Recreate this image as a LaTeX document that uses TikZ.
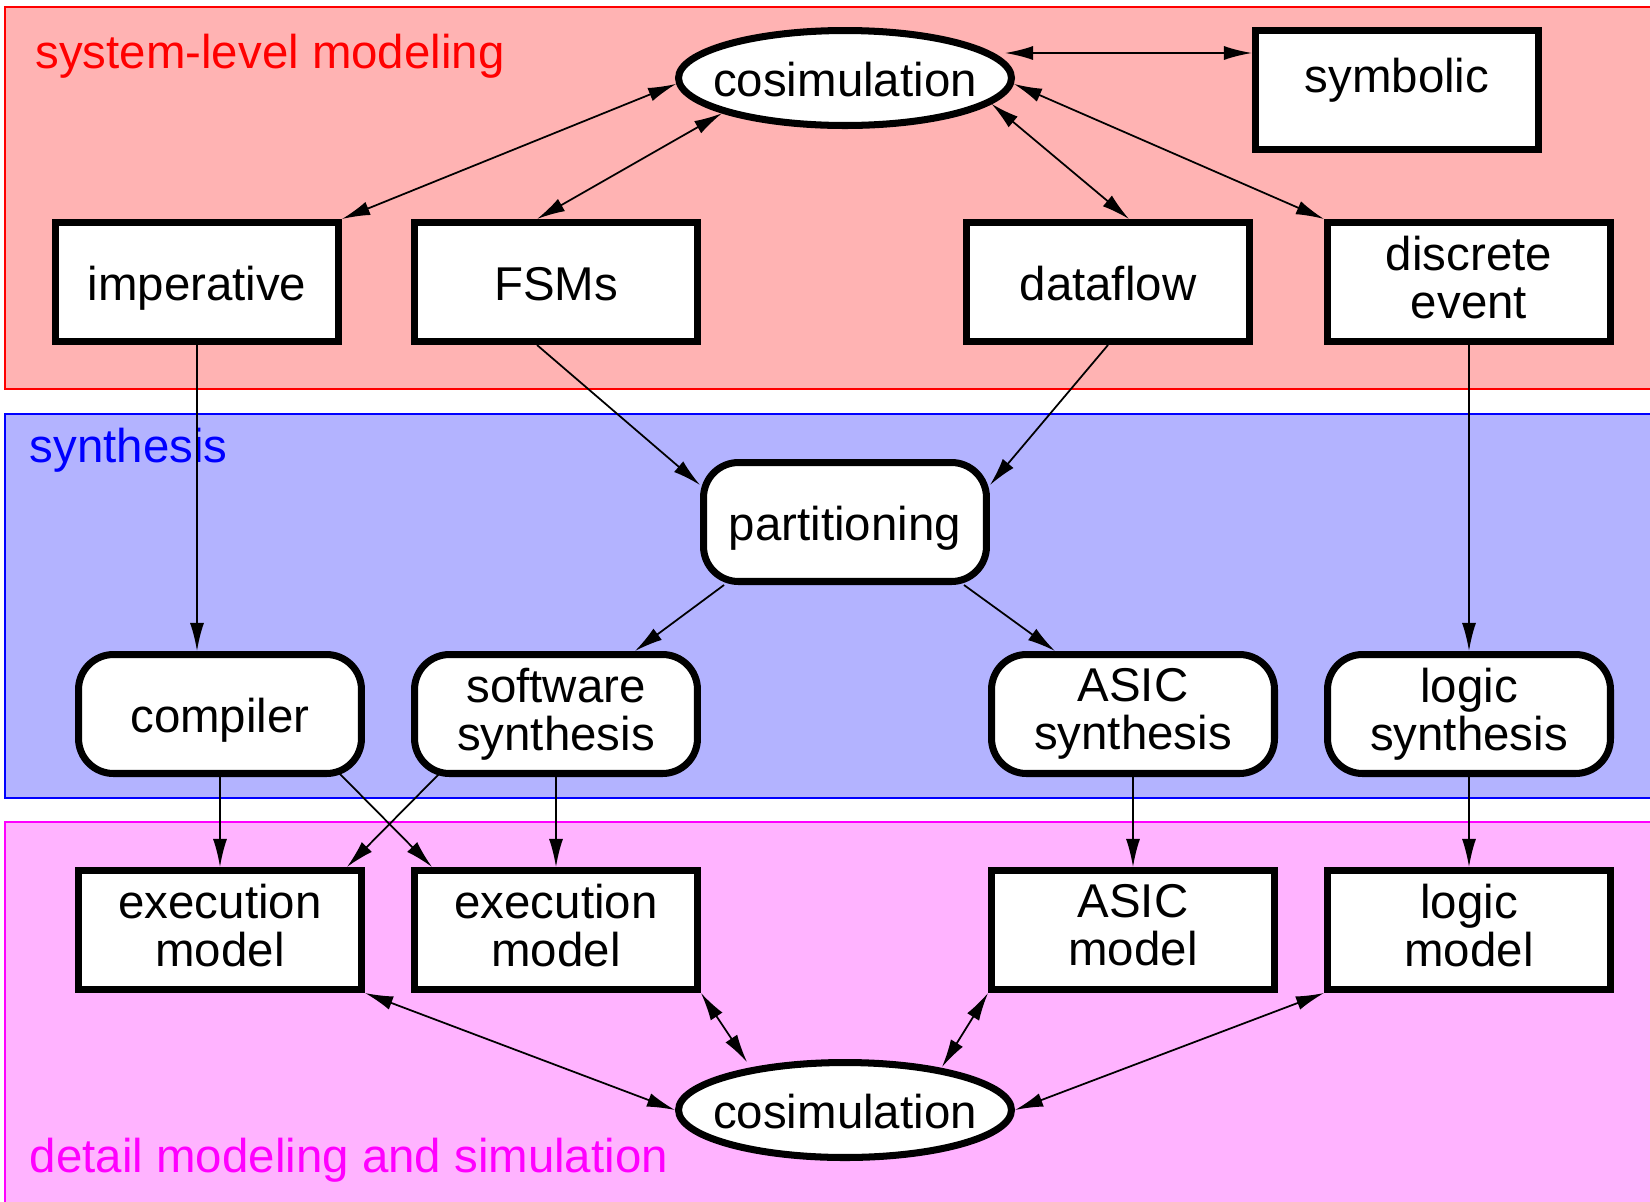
\documentclass[tikz,border=0pt]{standalone}
\usepackage{fontspec}
\setmainfont{Liberation Sans}
\usetikzlibrary{shapes.geometric,arrows.meta,calc}
\definecolor{bandred}{RGB}{255,0,0}
\definecolor{bandredfill}{RGB}{255,179,179}
\definecolor{bandblue}{RGB}{0,0,255}
\definecolor{bandbluefill}{RGB}{179,179,255}
\definecolor{bandmag}{RGB}{255,0,255}
\definecolor{bandmagfill}{RGB}{255,179,255}
\newcommand{\mylowstrut}[1]{\rule[-#1]{0pt}{0pt}}
\tikzset{
  nodefont/.style={font=\fontsize{27}{27.5}\selectfont},
  sqbox/.style={nodefont, draw, line width=4pt, fill=white, rectangle, minimum width=5.66cm, minimum height=2.38cm, inner sep=0pt, align=center},
  rbox/.style={sqbox, rounded corners=0.7cm},
  oneline/.style={text height=0.85cm, text depth=0.11cm},
  ebox/.style={nodefont, draw, line width=4pt, fill=white, ellipse, minimum width=6.66cm, minimum height=1.9cm, inner sep=0pt, oneline},
  band/.style={line width=1pt},
  blabel/.style={nodefont, anchor=base west, inner sep=0pt},
  arr/.style={-{Latex[length=16pt,width=8pt]}, line width=1pt},
  darr/.style={{Latex[length=16pt,width=8pt]}-{Latex[length=16pt,width=8pt]}, line width=1pt}
}
\begin{document}
\begin{tikzpicture}[x=0.02cm, y=-0.02cm]
\useasboundingbox (0,0) rectangle (1650,1201);
\clip (0,0) rectangle (1650,1201);
% bands
\draw[band, draw=bandred, fill=bandredfill] (5,7) rectangle (1700,389);
\draw[band, draw=bandblue, fill=bandbluefill] (5,414) rectangle (1700,798);
\draw[band, draw=bandmag, fill=bandmagfill] (5,822) rectangle (1700,1250);
\node[blabel, text=bandred] (l1) at (35,68) {system-level modeling};
\node[blabel, text=bandblue] (l2) at (29.5,462) {synthesis};
\node[blabel, text=bandmag] (l3) at (29.5,1172) {detail modeling and simulation};
% nodes
\node[ebox] (cosA) at (845,78) {\makebox[0pt]{cosimulation}};
\node[sqbox, text height=0.5cm, text depth=0.4cm] (sym) at (1397,90) {symbolic};
\node[sqbox, oneline] (imp) at (197,282) {imperative};
\node[sqbox, oneline] (fsm) at (556,282) {FSMs};
\node[sqbox, oneline] (dfl) at (1108,282) {dataflow};
\node[sqbox] (dev) at (1469,282) {discrete\\event\mylowstrut{0.18cm}};
\node[rbox, oneline] (part) at (845,522) {partitioning};
\node[rbox, oneline] (comp) at (220,714) {compiler};
\node[rbox] (sws) at (556,714) {software\\synthesis};
\node[rbox] (asyn) at (1133,714) {ASIC\\synthesis};
\node[rbox] (lsyn) at (1469,714) {logic\\synthesis};
\node[sqbox] (ex1) at (220,930) {execution\\model\mylowstrut{0.2cm}};
\node[sqbox] (ex2) at (556,930) {execution\\model\mylowstrut{0.2cm}};
\node[sqbox] (asm) at (1133,930) {ASIC\\model\mylowstrut{0.2cm}};
\node[sqbox] (lgm) at (1469,930) {logic\\model\mylowstrut{0.2cm}};
\node[ebox] (cosB) at (845,1110) {\makebox[0pt]{cosimulation}};
% top connectors
\draw[darr] ($(cosA.east)+(-10,-25)$) -- ($(sym.west)+(0,-37)$);
\draw[darr] (cosA.182) -- (imp.north east);
\draw[darr] (cosA.196.6) -- ($(fsm.north)+(-19,0)$);
\draw[darr] (cosA.350.8) -- ($(dfl.north)+(21,0)$);
\draw[darr] (cosA.358) -- (dev.north west);
% to synthesis
\draw[arr] (imp.south) -- (imp.south |- comp.north);
\draw[arr] ($(fsm.south)+(-19,0)$) -- ($(part.north west)+(0,26)$);
\draw[arr] (dfl.south) -- ($(part.north east)+(0,26)$);
\draw[arr] (dev.south) -- (lsyn.north);
\draw[arr] ($(part.south west)+(24,0)$) -- ($(sws.north)+(79,0)$);
\draw[arr] ($(part.south east)+(-26,0)$) -- ($(asyn.north)+(-78,0)$);
% to models
\draw[arr] (comp.south) -- (ex1.north);
\draw[arr] ($(comp.south east)+(-26,-4)$) -- ($(ex2.north west)+(21,0)$);
\draw[arr] ($(sws.south west)+(29,-4)$) -- ($(ex1.north east)+(-18,0)$);
\draw[arr] (sws.south) -- (ex2.north);
\draw[arr] (asyn.south) -- (asm.north);
\draw[arr] (lsyn.south) -- (lgm.north);
% bottom cosimulation
\draw[darr] (ex1.south east) -- (cosB.west);
\draw[darr] (ex2.south east) -- ($(cosB.center)+(-98,-48)$);
\draw[darr] (asm.south west) -- ($(cosB.center)+(97,-43)$);
\draw[darr] (lgm.south west) -- (cosB.east);
\end{tikzpicture}
\end{document}
